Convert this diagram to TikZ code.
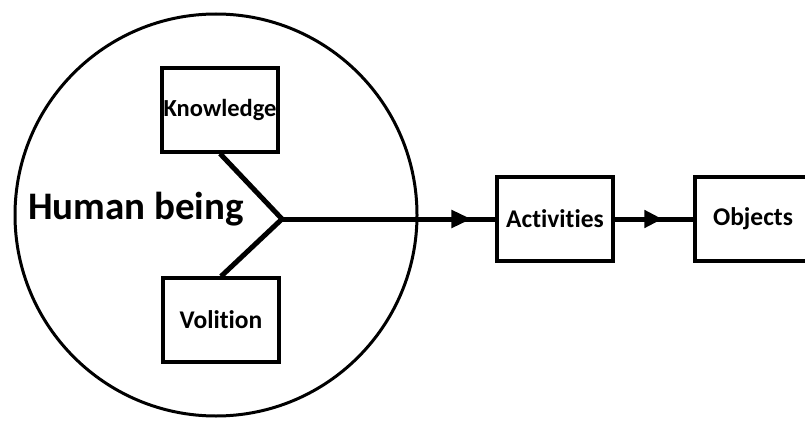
\documentclass[tikz,border=0pt]{standalone}
\usepackage{fontspec}
\setmainfont{Carlito}[Ligatures=NoCommon]
\usetikzlibrary{arrows.meta,decorations.markings}

\tikzset{
  box/.style={draw, line width=3.2pt, minimum width=116pt, minimum height=84pt,
    inner sep=0pt, font=\fontsize{25.5}{28}\selectfont\bfseries},
  link/.style={line width=5pt},
}

\begin{document}
\begin{tikzpicture}[x=1pt,y=-1pt]
\useasboundingbox (0,0) rectangle (805,420);
% Human being
\node[circle, draw, line width=3pt, minimum size=402pt, inner sep=0pt] (human) at (216,215) {};
\node[font=\fontsize{39}{42}\selectfont\bfseries] (hb) at (136,209) {Human being};
% Boxes
\node[box, font=\fontsize{24.5}{28}\selectfont\bfseries] (know) at (220,110) {Knowledge};
\node[box] (vol) at (221,320) {Volition};
\node[box] (act) at (555,219) {Activities};
\node[box] (obj) at (753,219) {Objects};
\coordinate (mid) at (282,219);

% Y branch
\draw[link] (know.south) -- (mid) -- (vol.north);
% Arrows
\draw[link, postaction={decorate}, decoration={markings,
    mark=at position -24pt with {\arrow{Triangle[length=20pt,width=17pt]}}}]
  (mid) -- (act.west);
\draw[link, postaction={decorate}, decoration={markings,
    mark=at position -31pt with {\arrow{Triangle[length=18pt,width=17pt]}}}]
  (act.east) -- (obj.west);
\end{tikzpicture}
\end{document}
